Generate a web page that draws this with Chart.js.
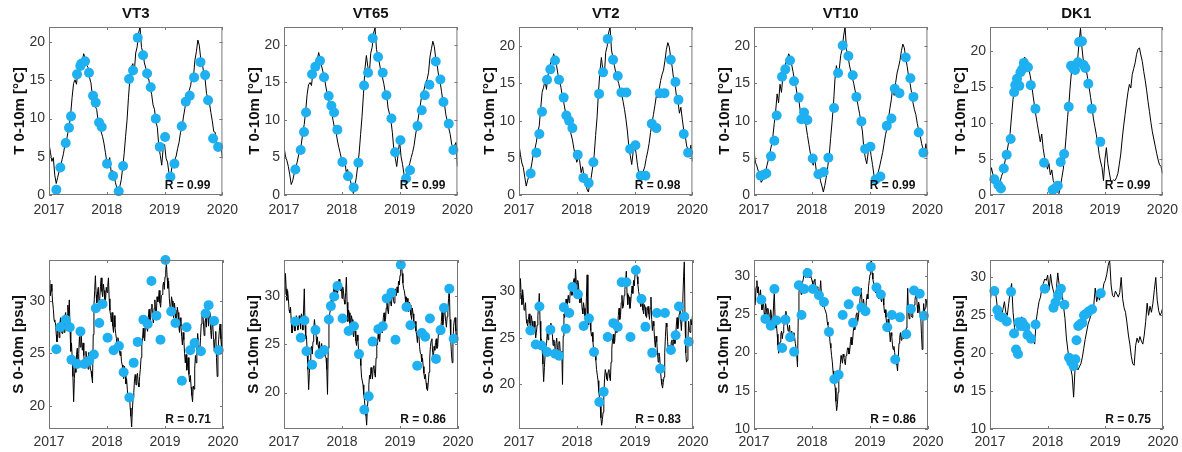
<!DOCTYPE html>
<html><head><meta charset="utf-8">
<script src="https://cdn.jsdelivr.net/npm/chart.js@4.4.1/dist/chart.umd.min.js"></script>
<style>
html,body{margin:0;padding:0;background:#fff;}
#wrap{position:relative;width:1182px;height:452px;overflow:hidden;background:#fff;}
canvas{position:absolute;}
</style></head><body><div id="wrap"></div>
<script>
// ---------------- DATA ----------------
const stations = ['VT3','VT65','VT2','VT10','DK1'];
const rLabelsT = ['0.99','0.99','0.98','0.99','0.99'];
const rLabelsS = ['0.71','0.86','0.83','0.86','0.75'];
const xTickYears = [2017, 2018, 2019, 2020];
const modelStartYear = 2017;
const modelStepT = [0.025, 0.025, 0.025, 0.025, 0.025];
const modelStepS = [0.0125, 0.0125, 0.0125, 0.0125, 0.025];
const yRangeT = [[0,22],[0,22.4],[0,22.6],[0,22.6],[0,23.4]];
const yRangeS = [[17.8,33.9],[16.2,33.8],[15.2,33.4],[10,32.1],[10,32.3]];

// model temperature (every 0.025 yr from 2017.0 to 2020.0)
const modelT_VT3 = [6.7,5.6,4.4,4.9,2.6,1.5,2.3,3.1,3.7,4.6, 5.4,6.6,7.0,8.1,8.9,10.6,12.8,14.6,15.1,14.5, 16.2,16.6,17.6,17.4,18.5,17.9,17.0,16.7,15.4,14.7, 13.0,12.7,11.6,11.2,9.6,9.8,8.3,7.7,6.8,5.6,
 4.3,4.1,4.9,3.0,3.2,2.6,1.6,0.9,0.3,1.1, 2.0,3.6,5.4,7.7,9.8,12.8,15.3,16.8,17.2,16.1, 18.6,19.4,21.2,22.0,19.3,18.7,17.3,16.6,15.3,15.2, 14.0,13.2,11.8,11.2,9.6,8.8,6.3,5.2,3.9,6.1,
 6.6,4.8,4.3,2.9,2.3,3.6,3.9,4.6,5.1,6.1, 6.9,8.2,8.8,10.2,11.3,12.6,12.5,13.7,14.3,15.7, 15.6,17.7,18.8,20.3,19.6,17.8,17.4,16.0,15.2,13.3, 12.6,12.1,10.8,9.7,8.3,8.2,6.9,6.6,5.8,6.4, 4.8];
const modelT_VT65 = [6.4,5.2,4.6,3.8,2.7,1.4,1.9,2.8,3.4,4.3, 5.2,6.1,6.8,8.3,9.4,11.2,13.4,14.7,15.0,14.6, 16.3,16.9,17.8,18.0,19.0,18.1,17.2,16.4,15.6,14.4, 13.4,12.6,11.8,11.0,9.9,8.9,8.4,7.2,6.3,5.5,
 4.6,3.9,4.8,3.1,3.4,2.5,1.9,1.0,0.2,1.2, 2.3,3.9,5.6,8.1,10.5,13.5,16.8,18.6,17.1,16.0, 18.9,19.7,21.6,22.3,19.4,18.5,17.6,16.5,15.8,14.9, 13.8,13.4,11.6,10.8,9.9,8.3,6.0,4.9,3.8,5.6,
 7.2,5.1,4.1,2.8,2.1,3.0,3.6,4.2,5.0,5.7, 6.6,8.0,9.1,10.4,11.6,12.9,13.6,14.1,15.0,15.4, 16.3,18.4,19.5,20.5,19.8,18.2,17.3,15.9,15.1,13.8, 12.4,12.2,10.7,9.8,8.9,8.1,6.8,6.3,6.6,7.0, 3.8];
const modelT_VT2 = [6.8,5.4,4.3,3.7,2.4,1.2,2.0,2.7,3.3,4.4, 5.6,6.2,7.1,8.4,9.3,11.6,13.8,14.5,15.4,14.2, 16.1,16.8,17.9,18.2,19.0,18.3,17.4,16.2,15.5,14.5, 13.2,12.4,11.3,10.6,9.7,9.1,8.2,7.4,6.2,5.3,
 4.4,5.1,4.6,3.0,3.8,2.4,1.8,0.8,0.4,1.5, 2.4,3.8,5.3,8.0,10.4,13.9,16.6,18.5,16.8,15.9, 19.2,20.0,21.8,22.6,19.5,18.4,17.4,16.4,15.6,15.0, 14.1,13.6,12.6,11.5,10.2,8.6,6.5,5.3,4.1,5.8,
 7.0,5.6,4.0,2.8,2.0,2.7,3.2,3.8,4.9,5.8, 6.9,8.4,9.6,10.8,12.0,13.3,13.1,14.2,15.4,16.2, 16.8,18.1,19.6,20.5,19.9,18.4,17.2,15.6,14.8,13.2, 12.6,11.0,11.8,10.2,8.7,8.0,6.6,6.1,5.4,6.7, 4.5];
const modelT_VT10 = [5.8,4.4,3.9,3.2,2.4,1.7,2.0,2.6,3.1,4.0, 4.8,5.7,6.6,7.8,9.6,11.3,13.6,12.4,14.9,13.8, 16.0,16.7,17.8,18.2,19.0,18.6,17.6,16.6,15.4,14.6, 13.3,12.8,11.3,11.6,10.2,10.5,9.3,8.0,6.8,5.6,
 4.6,4.0,5.0,3.4,2.8,3.2,1.9,1.2,0.4,1.3, 2.4,3.8,5.2,7.6,9.8,12.2,15.5,17.4,16.3,16.9, 18.8,19.6,21.4,22.6,19.6,18.8,17.5,16.6,15.8,15.0, 14.0,13.1,12.0,11.0,9.8,8.6,6.3,5.0,4.2,5.7,
 6.8,5.3,4.1,2.7,2.0,2.5,3.1,3.9,4.8,5.7, 6.9,8.1,9.0,10.2,11.6,12.8,14.6,13.4,15.1,16.4, 17.2,18.1,19.4,20.3,19.8,18.4,17.3,15.9,15.0,13.8, 12.4,11.5,10.8,9.6,8.7,8.0,6.9,6.2,5.6,6.9, 5.5];
const modelT_DK1 = [2.6,3.8,2.9,2.2,1.6,1.3,1.0,1.8,2.6,3.2, 4.2,5.3,6.2,7.4,8.6,11.0,13.3,14.8,15.5,15.8, 16.6,17.3,18.0,18.6,19.2,19.0,18.4,17.6,16.6,15.4, 13.8,12.4,11.0,9.8,8.6,7.4,8.5,6.5,5.2,4.6,
 3.6,4.4,2.8,3.5,2.0,1.6,1.8,0.4,0.2,1.2, 2.4,3.6,5.8,8.2,10.8,12.9,15.6,17.8,17.2,17.8, 18.2,18.9,21.3,23.2,20.5,18.6,18.0,17.4,16.2,15.0, 13.6,12.2,10.6,9.5,8.4,7.2,5.6,4.6,3.8,2.0,
 5.0,6.6,4.4,3.2,2.0,1.9,2.1,2.0,2.4,3.0, 4.3,5.7,7.8,9.6,11.2,12.8,14.3,15.4,14.9,16.8, 17.6,18.4,19.6,20.3,20.5,19.5,18.6,17.2,16.0,14.6, 13.0,11.6,10.1,8.8,7.8,6.8,5.8,4.9,4.2,4.0, 3.0];

// model salinity (VT stations every 0.0125 yr, DK1 every 0.025 yr, from 2017.0 to 2020.0)
const modelS_VT3 = [32.0,31.2,30.5,31.6,30.9,29.9,29.2,28.2,28.0,27.9,26.8,26.1,27.8,27.9,26.5,27.9,28.4,27.2,26.9,28.3,
 27.8,27.0,28.6,28.9,27.2,28.7,29.6,28.5,30.1,27.4,25.2,26.0,24.6,22.8,20.4,22.6,23.8,23.2,24.9,25.5,
 23.9,25.0,26.6,25.6,27.4,26.1,25.3,26.0,24.8,24.0,23.7,25.2,24.6,24.3,23.5,25.1,24.2,23.6,23.3,22.8,
 22.2,26.8,29.5,31.0,32.4,30.6,29.8,30.9,31.3,29.7,30.2,31.4,32.2,30.9,30.4,31.6,31.0,29.8,30.1,31.3,
 30.8,31.4,32.2,30.2,29.1,28.6,28.0,28.9,27.6,27.0,28.6,27.5,26.9,26.4,25.4,26.5,26.2,25.4,24.8,25.2,
 24.2,23.9,23.4,22.6,23.8,23.1,22.1,22.6,21.6,20.7,20.4,21.1,19.8,19.0,18.0,19.6,20.8,21.3,22.6,23.0,
 22.0,22.9,23.1,22.2,21.8,22.8,23.5,24.6,25.8,26.4,27.4,26.5,26.2,27.6,28.3,27.4,27.1,28.4,29.2,28.0,
 28.1,29.3,29.7,28.4,27.9,29.3,30.1,29.0,28.6,30.4,29.9,30.2,31.0,29.8,29.4,30.5,30.6,31.4,31.8,31.1,
 32.3,33.0,33.5,32.2,31.2,31.9,30.2,29.4,29.3,30.4,30.0,28.9,28.4,29.8,29.1,28.0,28.2,29.4,28.9,27.6,
 27.0,28.4,27.6,26.6,25.8,27.0,26.3,25.0,24.1,24.9,23.4,23.9,24.6,23.0,22.3,22.9,21.8,21.0,20.4,21.9,
 21.6,23.6,24.8,24.1,25.6,26.9,26.2,25.3,25.0,26.5,27.8,28.6,29.1,27.9,26.7,27.8,28.4,27.5,29.3,28.7,
 27.6,28.9,28.5,27.2,26.4,28.0,27.6,26.3,25.2,26.4,27.1,24.6,22.8,25.0,26.3,27.2,27.8,26.4,25.6,27.0,
 28.2];
const modelS_VT65 = [31.0,30.2,32.4,30.8,29.6,30.6,29.8,28.6,28.3,28.9,27.4,26.2,26.5,27.4,27.8,26.4,26.9,28.0,27.6,26.5,
 26.8,28.0,27.4,26.6,28.2,27.9,26.5,28.6,30.8,27.0,25.6,25.9,24.1,22.4,20.3,22.0,23.4,24.6,24.8,24.0,
 25.3,26.6,27.6,26.8,26.4,25.0,25.8,24.9,24.6,25.3,24.0,24.6,25.1,23.9,23.8,24.8,24.9,23.7,23.6,22.4,
 19.8,24.6,27.4,28.2,28.6,29.6,29.3,28.8,30.2,30.9,29.6,30.3,31.2,30.0,30.4,31.4,31.8,30.8,30.6,31.2,
 29.8,31.0,30.6,29.6,29.2,30.4,32.0,29.4,27.4,28.6,28.3,27.2,26.6,28.0,27.6,26.2,25.8,26.9,26.4,25.4,
 24.9,26.0,25.4,24.2,23.6,23.9,22.8,21.6,21.2,20.8,19.8,19.2,18.2,17.6,16.6,18.4,19.4,20.8,21.8,21.4,
 22.6,22.0,21.4,22.6,22.8,22.0,21.6,23.6,25.4,25.0,26.4,25.6,25.3,26.6,27.2,26.2,26.8,27.8,28.3,27.4,
 27.6,28.8,29.6,28.6,28.2,29.4,30.1,29.4,29.0,30.0,30.4,29.6,29.3,30.4,30.8,30.1,31.0,30.4,31.6,31.2,
 32.2,32.9,33.6,32.4,31.4,30.8,30.6,30.0,29.2,29.9,29.8,28.8,28.4,29.4,29.1,28.1,27.6,28.8,28.2,27.4,
 27.1,27.4,26.4,26.0,25.2,26.4,26.0,24.8,24.1,24.0,23.2,23.6,22.7,22.0,21.4,21.9,21.0,20.4,20.2,21.0,
 22.1,23.6,24.8,25.4,25.6,24.2,23.6,24.8,24.4,25.2,25.6,24.6,24.8,26.2,26.9,26.0,26.2,27.4,28.4,27.0,
 27.6,28.6,28.3,27.4,26.8,27.9,28.6,29.8,31.0,27.6,25.4,24.0,23.1,25.2,26.9,27.6,27.8,26.4,25.2,26.8,
 28.0];
const modelS_VT2 = [30.0,29.2,31.4,29.6,28.6,30.2,29.4,28.0,28.2,28.8,27.0,26.6,26.3,27.0,27.6,26.6,25.9,27.4,26.8,25.6,
 25.4,26.8,26.2,25.0,25.6,26.4,27.4,28.4,29.8,26.8,24.6,24.9,23.8,22.2,20.3,21.8,23.2,24.0,24.4,25.6,
 24.8,25.2,26.4,25.8,26.6,25.6,25.4,24.2,24.8,24.4,23.6,24.4,25.0,24.0,23.4,24.6,24.6,23.4,22.8,23.6,
 20.0,25.2,27.6,27.2,28.4,29.2,28.0,29.0,29.6,28.8,29.2,30.2,30.8,29.6,30.0,31.0,31.4,30.6,32.4,31.0,
 30.2,31.2,30.8,29.6,28.8,29.8,29.4,28.2,27.6,28.8,28.2,27.4,27.0,29.4,31.8,27.2,26.4,27.4,26.8,25.8,
 25.2,25.6,24.6,23.6,23.4,23.8,22.6,21.6,21.0,20.4,19.2,18.6,17.8,16.4,15.6,16.2,17.0,18.8,20.6,21.6,
 21.2,20.6,20.4,21.4,21.6,20.8,20.4,22.4,23.8,24.8,25.4,24.4,24.6,25.8,26.8,25.6,26.0,27.4,28.2,27.0,
 27.4,28.8,29.6,28.2,28.4,29.6,30.2,31.0,32.2,29.8,28.6,29.6,29.4,28.2,28.8,29.8,30.6,29.8,31.2,30.6,
 31.8,32.6,32.8,31.6,30.8,30.0,29.6,28.8,28.4,29.6,28.9,28.0,27.6,28.6,28.3,27.4,27.2,28.0,28.4,27.6,
 27.0,28.2,29.4,27.0,25.8,26.8,26.3,24.8,24.0,25.2,24.6,23.4,22.4,23.4,23.0,21.8,20.6,20.0,19.6,20.2,
 20.8,23.4,25.2,26.6,26.2,24.6,23.4,24.2,23.8,23.2,24.6,24.8,23.6,24.6,25.4,24.4,25.0,26.4,27.2,26.0,
 26.6,27.6,28.2,26.8,25.8,27.4,29.2,31.6,33.2,27.0,23.4,22.4,22.6,24.8,26.8,25.8,25.6,27.0,26.4,27.2,
 27.8];
const modelS_VT10 = [28.4,26.2,26.8,28.6,29.4,27.8,28.6,27.0,27.4,28.2,26.6,25.6,26.0,26.8,25.2,24.6,26.4,25.8,24.8,25.8,
 25.4,24.8,24.2,25.6,25.0,23.8,24.0,26.2,28.0,24.6,23.2,23.6,22.4,21.0,19.9,20.8,21.4,22.4,22.8,21.8,
 22.6,23.4,24.2,25.0,25.4,24.4,23.6,22.8,23.0,23.6,22.2,21.8,22.8,22.2,21.6,22.6,22.0,21.2,20.6,19.6,
 18.1,24.6,27.8,28.8,28.6,27.6,28.0,29.2,29.6,30.4,30.0,29.8,31.0,30.2,29.8,30.8,30.6,29.8,30.2,29.8,
 29.4,29.0,28.6,29.4,29.6,28.4,28.0,28.6,28.4,28.0,27.4,28.2,29.4,27.6,26.6,26.0,26.8,25.8,25.6,25.6,
 25.0,24.0,23.6,22.8,22.4,21.2,20.6,19.6,18.8,17.6,16.5,16.0,15.4,13.6,12.4,13.2,14.8,16.4,17.2,18.4,
 19.6,19.2,18.6,19.8,19.4,18.8,18.4,19.6,19.8,20.6,20.6,19.8,20.2,21.4,22.0,21.0,21.6,22.8,23.4,23.0,
 24.0,25.0,25.2,24.0,24.6,25.8,26.8,27.6,28.4,26.4,25.8,27.0,26.2,25.6,25.4,26.8,27.6,27.0,28.6,29.4,
 30.2,31.2,32.2,30.4,29.6,29.0,28.4,28.6,27.8,28.4,28.6,27.6,27.0,28.2,27.8,27.0,26.6,27.4,27.4,26.2,
 25.2,25.6,24.6,23.8,23.4,24.4,23.8,22.6,21.4,22.6,22.2,21.0,20.4,20.8,20.0,19.2,19.4,18.4,17.6,19.4,
 21.2,22.0,22.6,21.6,22.2,22.8,21.8,22.4,22.6,22.0,23.2,25.2,28.4,25.4,24.4,25.2,25.8,24.8,24.6,25.8,
 25.4,26.2,26.8,27.6,28.0,26.2,25.2,26.6,26.2,25.0,24.6,22.4,20.4,24.0,26.4,25.4,25.8,27.0,26.6,26.0,
 27.8];
const modelS_DK1 = [26.6,28.2,28.6,28.4,27.8,26.2,25.6,25.2,25.0,25.8, 26.8,25.4,25.0,26.6,28.2,29.2,25.4,23.4,22.4,22.8, 23.4,24.2,24.8,24.4,23.8,24.0,23.6,23.0,22.6,22.2, 21.6,21.2,24.2,25.6,26.8,27.4,28.6,29.2,29.8,29.6,
 30.3,28.4,30.4,29.0,28.2,27.6,28.4,30.6,29.0,28.6, 28.0,26.2,24.6,22.0,20.4,19.0,18.0,17.0,14.2,18.0, 18.4,17.8,18.2,18.6,19.4,20.6,21.8,22.8,23.8,24.4, 25.0,25.6,26.4,28.6,26.8,27.6,27.0,28.4,28.0,29.2,
 29.6,30.4,31.6,32.3,29.0,27.6,27.4,28.2,27.8,27.4, 28.0,30.0,27.2,26.0,25.4,24.0,22.4,21.2,19.6,18.6, 18.4,21.0,22.0,21.4,22.2,21.6,21.2,22.4,24.2,26.6, 25.0,26.2,25.4,26.6,28.4,30.0,27.0,25.6,25.0,25.4, 26.2];

// observations: time (decimal year) and value
const obsTimeT_VT3 = [2017.127,2017.196,2017.289,2017.346,2017.381,2017.485,2017.542,2017.56,2017.623,2017.692,2017.762,2017.808,2017.866,2017.912,2018.004,2018.108,2018.206,2018.281,2018.385,2018.454,2018.535,2018.627,2018.697,2018.760,2018.847,2018.916,2019.008,2019.100,2019.170,2019.297,2019.366,2019.435,2019.510,2019.620,2019.700,2019.752,2019.839,2019.926];
const obsT_VT3 = [0.7,3.6,6.8,8.8,10.3,15.8,16.9,17.2,17.5,16.0,13.0,12.1,9.5,8.9,4.1,2.5,0.5,3.8,15.2,16.3,20.6,18.3,15.9,14.1,10.0,6.3,7.6,2.4,4.1,9.0,12.2,13.0,15.4,17.4,15.7,12.4,7.4,6.3];
const obsTimeT_VT65 = [2017.196,2017.289,2017.346,2017.381,2017.485,2017.542,2017.623,2017.692,2017.773,2017.819,2017.866,2017.923,2018.010,2018.108,2018.206,2018.287,2018.385,2018.454,2018.535,2018.627,2018.708,2018.771,2018.858,2018.922,2019.014,2019.112,2019.180,2019.310,2019.383,2019.435,2019.516,2019.625,2019.706,2019.758,2019.850,2019.930];
const obsT_VT65 = [3.4,6.0,8.4,11.0,16.1,17.1,17.9,15.7,13.2,11.9,11.0,8.7,4.4,2.5,1.0,4.3,14.6,16.3,20.9,18.4,16.3,13.3,10.2,5.7,7.3,2.2,3.3,9.2,11.3,13.3,14.7,17.8,15.4,12.4,9.5,6.0];
const obsTimeT_VT2 = [2017.202,2017.300,2017.352,2017.398,2017.485,2017.542,2017.623,2017.692,2017.773,2017.819,2017.866,2017.923,2018.016,2018.114,2018.206,2018.287,2018.385,2018.454,2018.535,2018.627,2018.708,2018.771,2018.858,2018.922,2019.014,2019.106,2019.187,2019.297,2019.377,2019.435,2019.516,2019.625,2019.706,2019.758,2019.850,2019.926];
const obsT_VT2 = [2.9,5.7,8.2,11.2,15.5,16.9,18.1,15.5,13.1,10.7,10.0,9.0,5.4,2.3,1.6,4.4,13.6,16.5,21.0,18.2,16.0,13.8,13.8,6.2,6.7,2.6,2.6,9.6,9.0,13.7,13.7,18.2,15.2,12.8,8.2,5.7];
const obsTimeT_VT10 = [2017.115,2017.162,2017.213,2017.294,2017.352,2017.392,2017.485,2017.542,2017.623,2017.692,2017.773,2017.819,2017.866,2017.923,2018.016,2018.114,2018.206,2018.287,2018.385,2018.454,2018.535,2018.633,2018.708,2018.771,2018.858,2018.922,2019.014,2019.106,2019.187,2019.297,2019.377,2019.435,2019.516,2019.625,2019.706,2019.758,2019.850,2019.930];
const obsT_VT10 = [2.6,2.7,2.9,5.2,7.3,10.7,15.9,16.9,18.1,15.3,13.1,10.2,11.1,10.1,4.9,2.8,3.1,5.0,11.7,16.4,20.1,18.7,16.1,13.2,9.9,6.2,6.5,2.1,2.5,9.3,10.3,14.3,13.7,18.5,15.7,13.2,8.4,5.7];
const obsTimeT_DK1 = [2017.075,2017.145,2017.19,2017.24,2017.29,2017.36,2017.42,2017.44,2017.47,2017.51,2017.53,2017.56,2017.59,2017.63,2017.66,2017.71,2017.79,2017.94,2018.09,2018.13,2018.18,2018.23,2018.29,2018.37,2018.41,2018.45,2018.48,2018.53,2018.55,2018.60,2018.63,2018.66,2018.71,2018.77,2018.92];
const obsT_DK1 = [2.2,1.4,0.9,3.7,5.6,7.8,14.3,15.3,16.2,15.2,17.1,17.5,18.4,17.9,17.8,15.3,12.0,4.5,0.7,0.9,1.3,4.6,5.7,12.3,18.0,17.6,17.4,18.5,21.3,21.4,18.1,17.7,15.5,12.0,7.4];

const obsTimeS_VT3 = [2017.127,2017.196,2017.289,2017.358,2017.387,2017.485,2017.542,2017.612,2017.692,2017.773,2017.808,2017.866,2017.923,2018.010,2018.114,2018.206,2018.287,2018.385,2018.460,2018.529,2018.627,2018.702,2018.766,2018.852,2018.922,2019.008,2019.106,2019.180,2019.291,2019.372,2019.435,2019.510,2019.620,2019.700,2019.752,2019.845,2019.926];
const obsS_VT3 = [25.4,27.5,28.2,27.5,24.4,24.0,27.1,24.0,24.3,24.9,29.3,27.9,29.7,26.5,25.3,25.7,23.2,20.8,24.1,26.1,28.2,27.8,31.9,28.6,26.3,33.9,29.0,27.9,22.4,27.5,25.3,26.0,25.2,28.8,29.6,28.1,25.3];
const obsTimeS_VT65 = [2017.196,2017.289,2017.352,2017.387,2017.485,2017.542,2017.612,2017.692,2017.773,2017.808,2017.866,2017.923,2018.010,2018.114,2018.206,2018.293,2018.385,2018.460,2018.529,2018.627,2018.702,2018.771,2018.852,2018.922,2019.014,2019.112,2019.180,2019.297,2019.377,2019.435,2019.516,2019.620,2019.700,2019.758,2019.850,2019.926];
const obsS_VT65 = [27.4,25.7,27.5,24.3,22.9,26.5,24.0,24.4,27.6,29.0,30.0,31.1,27.7,26.4,26.9,24.0,18.2,19.6,25.3,26.6,26.9,29.8,30.4,25.5,33.3,28.9,27.0,22.8,26.2,25.8,27.7,23.5,26.5,28.8,30.8,25.6];
const obsTimeS_VT2 = [2017.196,2017.289,2017.352,2017.387,2017.485,2017.542,2017.623,2017.692,2017.773,2017.808,2017.866,2017.923,2018.016,2018.114,2018.206,2018.293,2018.385,2018.460,2018.529,2018.627,2018.702,2018.771,2018.852,2018.922,2019.014,2019.112,2019.180,2019.297,2019.377,2019.435,2019.516,2019.620,2019.700,2019.758,2019.850,2019.926];
const obsS_VT2 = [25.8,24.3,28.4,24.2,23.5,25.9,23.3,23.1,28.3,26.0,27.7,30.5,29.7,26.3,27.1,23.5,18.1,19.2,25.1,26.6,26.2,31.0,31.0,25.1,32.3,29.2,26.2,23.4,27.7,21.7,27.7,23.7,25.3,28.4,27.3,24.6];
const obsTimeS_VT10 = [2017.127,2017.196,2017.289,2017.352,2017.387,2017.485,2017.542,2017.623,2017.692,2017.773,2017.819,2017.866,2017.923,2018.016,2018.120,2018.206,2018.293,2018.385,2018.460,2018.529,2018.633,2018.708,2018.771,2018.852,2018.922,2019.014,2019.112,2019.187,2019.297,2019.377,2019.435,2019.516,2019.625,2019.706,2019.758,2019.856,2019.930];
const obsS_VT10 = [26.9,24.4,23.5,28.3,24.2,20.6,24.3,22.0,20.1,28.8,24.9,28.3,30.4,28.3,27.5,26.6,22.7,16.5,17.1,24.9,26.3,23.9,28.0,25.9,25.4,31.2,28.5,27.6,23.3,24.9,19.1,24.6,22.4,25.7,28.1,27.7,24.8];
const obsTimeS_DK1 = [2017.075,2017.127,2017.16,2017.22,2017.29,2017.365,2017.417,2017.452,2017.486,2017.50,2017.53,2017.556,2017.58,2017.614,2017.65,2017.712,2017.79,2017.95,2018.10,2018.135,2018.18,2018.23,2018.29,2018.37,2018.41,2018.45,2018.48,2018.50,2018.53,2018.56,2018.60,2018.63,2018.67,2018.71,2018.77,2018.92];
const obsS_DK1 = [28.2,25.7,24.9,24.7,24.2,28.1,22.6,20.5,19.9,24.1,23.6,24.1,23.8,23.5,22.4,21.9,23.8,28.5,26.0,26.7,27.6,28.5,26.4,19.4,18.8,18.3,19.2,21.7,23.6,23.8,24.0,25.0,25.2,25.5,25.8,27.9];

// ---------------- RENDERING ----------------
const modelT = [modelT_VT3, modelT_VT65, modelT_VT2, modelT_VT10, modelT_DK1];
const modelS = [modelS_VT3, modelS_VT65, modelS_VT2, modelS_VT10, modelS_DK1];
const obsTimeT = [obsTimeT_VT3, obsTimeT_VT65, obsTimeT_VT2, obsTimeT_VT10, obsTimeT_DK1];
const obsT = [obsT_VT3, obsT_VT65, obsT_VT2, obsT_VT10, obsT_DK1];
const obsTimeS = [obsTimeS_VT3, obsTimeS_VT65, obsTimeS_VT2, obsTimeS_VT10, obsTimeS_DK1];
const obsS = [obsS_VT3, obsS_VT65, obsS_VT2, obsS_VT10, obsS_DK1];

const FONT = "'Liberation Sans', Arial, Helvetica, sans-serif";
const DOT = '#1eb0f0';
const AXIS = '#777777';
const TXT = '#333333';
const plotLefts = [49, 284, 519, 754, 990];
const plotWidths = [174, 174, 174, 174, 173];
const YAXW = 49, RPAD = 22;
const rows = [
  {top: 0, height: 225, padTop: 27, xH: 30, xPad: 7, ylabX: 20},
  {top: 230, height: 222, padTop: 30, xH: 23, xPad: 5, ylabX: 19}
];

const decor = {
  id: 'decor',
  afterDraw(chart, args, o) {
    const {ctx, chartArea: a, scales: {x, y}} = chart;
    ctx.save();
    ctx.strokeStyle = AXIS; ctx.lineWidth = 1;
    ctx.strokeRect(a.left + 0.5, a.top + 0.5, a.right - a.left - 1, a.bottom - a.top - 1);
    ctx.beginPath();
    x.ticks.forEach(t => {
      const px = Math.round(x.getPixelForValue(t.value)) + 0.5;
      ctx.moveTo(px, a.bottom); ctx.lineTo(px, a.bottom - 3);
      ctx.moveTo(px, a.top); ctx.lineTo(px, a.top + 3);
    });
    y.ticks.forEach(t => {
      const py = Math.round(y.getPixelForValue(t.value)) + 0.5;
      ctx.moveTo(a.left, py); ctx.lineTo(a.left + 3, py);
      ctx.moveTo(a.right, py); ctx.lineTo(a.right - 3, py);
    });
    ctx.stroke();
    ctx.fillStyle = '#111';
    ctx.font = 'bold 12px ' + FONT;
    ctx.textAlign = 'right'; ctx.textBaseline = 'middle';
    ctx.fillText('R = ' + o.r, a.right - 12, a.bottom - 9.5);
    if (o.title) {
      ctx.font = 'bold 15px ' + FONT;
      ctx.textAlign = 'center';
      ctx.fillText(o.title, (a.left + a.right) / 2, 14);
    }
    ctx.font = 'bold 15px ' + FONT;
    ctx.textAlign = 'center';
    ctx.translate(o.ylabX, (a.top + a.bottom) / 2);
    ctx.rotate(-Math.PI / 2);
    ctx.fillText(o.ylabel, 0, 0);
    ctx.restore();
  }
};

const wrap = document.getElementById('wrap');

function makePanel(col, rowIdx, model, step, times, obs, range, ylabel, r, title) {
  const row = rows[rowIdx];
  const c = document.createElement('canvas');
  const w = YAXW + plotWidths[col] + RPAD;
  c.width = w; c.height = row.height;
  c.style.left = (plotLefts[col] - YAXW) + 'px';
  c.style.top = row.top + 'px';
  c.style.width = w + 'px'; c.style.height = row.height + 'px';
  wrap.appendChild(c);
  const lineData = model.map((v, i) => ({x: modelStartYear + i * step, y: v}));
  const dotData = times.map((t, i) => ({x: t, y: obs[i]}));
  new Chart(c, {
    type: 'scatter',
    data: {datasets: [
      {data: dotData, order: 0, pointRadius: 5, pointHoverRadius: 5, backgroundColor: DOT, borderWidth: 0, showLine: false, clip: false},
      {data: lineData, order: 1, showLine: true, pointRadius: 0, borderColor: '#000', borderWidth: 1, tension: 0}
    ]},
    options: {
      responsive: false, animation: false, devicePixelRatio: 1,
      layout: {autoPadding: false, padding: {left: 0, right: RPAD, top: row.padTop, bottom: 0}},
      plugins: {legend: {display: false}, tooltip: {enabled: false},
        decor: {r: r, title: title, ylabel: ylabel, ylabX: row.ylabX}},
      scales: {
        x: {type: 'linear', min: xTickYears[0], max: xTickYears[xTickYears.length - 1],
          afterFit: s => { s.height = row.xH; },
          afterBuildTicks: s => { s.ticks = xTickYears.map(v => ({value: v})); },
          grid: {display: false, drawTicks: false}, border: {display: false},
          ticks: {padding: row.xPad, color: TXT, font: {family: FONT, size: 14}, maxRotation: 0, callback: v => String(v)}},
        y: {type: 'linear', min: range[0], max: range[1],
          afterFit: s => { s.width = YAXW; },
          grid: {display: false, drawTicks: false}, border: {display: false},
          ticks: {stepSize: 5, includeBounds: false, padding: 4, color: TXT, font: {family: FONT, size: 14}, callback: v => String(v)}}
      }
    },
    plugins: [decor]
  });
}

for (let k = 0; k < 5; k++) {
  makePanel(k, 0, modelT[k], modelStepT[k], obsTimeT[k], obsT[k], yRangeT[k], 'T 0-10m [\u00B0C]', rLabelsT[k], stations[k]);
  makePanel(k, 1, modelS[k], modelStepS[k], obsTimeS[k], obsS[k], yRangeS[k], 'S 0-10m [psu]', rLabelsS[k], null);
}
</script>
</body></html>
